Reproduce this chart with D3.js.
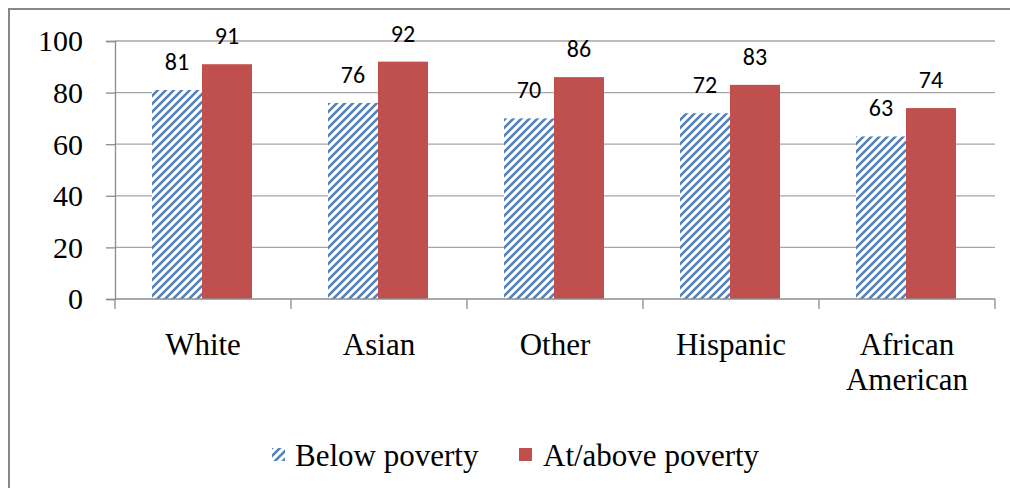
<!DOCTYPE html>
<html><head><meta charset="utf-8">
<script src="https://cdn.jsdelivr.net/npm/d3@7"></script>
</head><body style="margin:0">
<svg id="c" width="1010" height="488" font-family="Liberation Serif" style="font-family:'Liberation Serif'"></svg>
<script>
const categories = [["White"], ["Asian"], ["Other"], ["Hispanic"], ["African", "American"]];
const belowPoverty = [81, 76, 70, 72, 63];
const atAbovePoverty = [91, 92, 86, 83, 74];
const seriesNames = ["Below poverty", "At/above poverty"];
const yTicks = [0, 20, 40, 60, 80, 100];

const SERIF = "'Liberation Serif'";
const SANS = "'Carlito'";

const svg = d3.select("#c");
const defs = svg.append("defs");
const pat = defs.append("pattern").attr("id", "hatch").attr("patternUnits", "userSpaceOnUse")
  .attr("width", 8).attr("height", 8);
pat.append("rect").attr("width", 8).attr("height", 8).attr("fill", "#fff");
pat.append("path").attr("d", "M-2,2 L2,-2 M0,8 L8,0 M6,10 L10,6")
  .attr("stroke", "#4f81bd").attr("stroke-width", 2.6);

// outer border (top & left)
svg.append("path").attr("d", "M9,488 L9,9 L1010,9").attr("fill", "none")
  .attr("stroke", "#878787").attr("stroke-width", 2);

const x0 = 115, x1 = 995, yTop = 41, yBot = 299;
const x = d3.scaleBand().domain(d3.range(categories.length)).range([x0, x1]).paddingInner(0).paddingOuter(0);
const y = d3.scaleLinear().domain([0, 100]).range([yBot, yTop]);
const inner = d3.scaleBand().domain([0, 1]).range([37, x.bandwidth() - 39]);

// gridlines
svg.append("g").selectAll("line").data(yTicks.filter(d => d > 0)).join("line")
  .attr("x1", x0).attr("x2", x1).attr("y1", d => y(d)).attr("y2", d => y(d))
  .attr("stroke", "#a6a6a6").attr("stroke-width", 1.3);

// y axis
const ya = svg.append("g").attr("transform", `translate(${x0},0)`)
  .call(d3.axisLeft(y).tickValues(yTicks).tickSize(9).tickPadding(23));
ya.attr("font-family", "Liberation Serif").attr("font-size", 30);
ya.select(".domain").attr("stroke", "#8c8c8c").attr("stroke-width", 1.3);
ya.selectAll(".tick line").attr("stroke", "#8c8c8c").attr("stroke-width", 1.3);
ya.selectAll("text").attr("font-family", "Liberation Serif").style("font-family", SERIF)
  .style("font-size", "30px").attr("fill", "#000").attr("dy", "0.33em");

// bars
const g = svg.append("g");
const data = categories.map((c, i) => ({i, v: [belowPoverty[i], atAbovePoverty[i]]}));
data.forEach(d => {
  d.v.forEach((v, s) => {
    g.append("rect").attr("x", x(d.i) + inner(s)).attr("width", inner.bandwidth())
      .attr("y", y(v)).attr("height", y(0) - y(v))
      .attr("fill", s === 0 ? "url(#hatch)" : "#c0504d");
  });
});

// x axis
const xa = svg.append("g").attr("transform", `translate(0,${yBot})`);
xa.append("line").attr("x1", x0).attr("x2", x1).attr("stroke", "#8c8c8c").attr("stroke-width", 1.3);
xa.selectAll(".tk").data(d3.range(categories.length + 1)).join("line").attr("class", "tk")
  .attr("x1", i => x0 + i * x.step()).attr("x2", i => x0 + i * x.step())
  .attr("y1", 0).attr("y2", 10).attr("stroke", "#8c8c8c").attr("stroke-width", 1.3);

// category labels (one text per line)
categories.forEach((c, i) => {
  c.forEach((line, k) => {
    svg.append("text").attr("x", x(i) + x.bandwidth() / 2).attr("y", yBot + 56 + k * 35)
      .attr("text-anchor", "middle").attr("font-family", "Liberation Serif")
      .style("font-family", SERIF).style("font-size", "31px").attr("fill", "#000").text(line);
  });
});

// legend
svg.append("rect").attr("x", 272).attr("y", 448).attr("width", 13).attr("height", 13).attr("fill", "url(#hatch)");
svg.append("text").attr("x", 295).attr("y", 466).attr("font-family", "Liberation Serif")
  .style("font-family", SERIF).style("font-size", "31px").text(seriesNames[0]);
svg.append("rect").attr("x", 519).attr("y", 448).attr("width", 13).attr("height", 13).attr("fill", "#c0504d");
svg.append("text").attr("x", 543).attr("y", 466).attr("font-family", "Liberation Serif")
  .style("font-family", SERIF).style("font-size", "31px").text(seriesNames[1]);

// data labels
data.forEach(d => {
  d.v.forEach((v, s) => {
    svg.append("text").attr("x", x(d.i) + inner(s) + inner.bandwidth() / 2)
      .attr("y", y(v) - 20).attr("text-anchor", "middle").attr("font-family", "Carlito")
      .style("font-family", SANS).style("font-size", "24px")
      .attr("fill", "#000").text(v);
  });
});
</script>
</body></html>
